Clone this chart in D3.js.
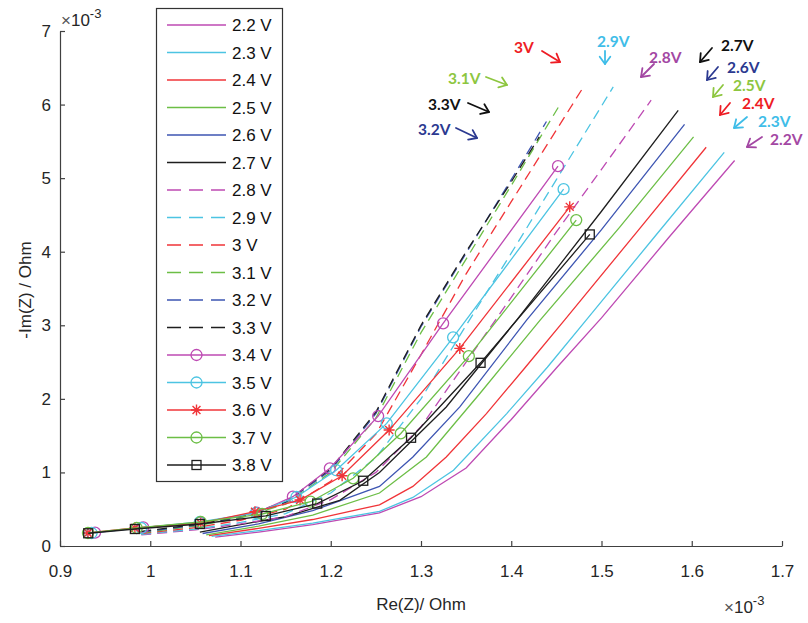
<!DOCTYPE html>
<html>
<head>
<meta charset="utf-8">
<script src="https://cdn.jsdelivr.net/npm/d3@7"></script>
<style>
  html, body { margin: 0; padding: 0; background: #fff; }
  svg { display: block; }
</style>
</head>
<body>
<svg id="chart" width="808" height="623"></svg>
<script>
// ---------------- DATA (Re(Z), -Im(Z)) in units of 1e-3 Ohm ----------------
const seriesNames = ["2.2 V","2.3 V","2.4 V","2.5 V","2.6 V","2.7 V","2.8 V","2.9 V","3 V","3.1 V","3.2 V","3.3 V","3.4 V","3.5 V","3.6 V","3.7 V","3.8 V"];

const v22 = [[1.072,0.12],[1.12,0.19],[1.18,0.29],[1.254,0.45],[1.30,0.67],[1.35,1.06],[1.40,1.72],[1.45,2.42],[1.50,3.10],[1.575,4.2],[1.6475,5.24]];
const v23 = [[1.068,0.13],[1.12,0.21],[1.18,0.31],[1.254,0.47],[1.291,0.66],[1.336,1.03],[1.395,1.80],[1.44,2.43],[1.483,3.07],[1.56,4.22],[1.636,5.35]];
const v24 = [[1.065,0.14],[1.12,0.24],[1.18,0.36],[1.254,0.56],[1.291,0.81],[1.328,1.21],[1.3725,1.8],[1.415,2.42],[1.459,3.07],[1.54,4.28],[1.616,5.42]];
const v25 = [[1.062,0.15],[1.12,0.27],[1.18,0.42],[1.254,0.72],[1.306,1.21],[1.365,2.07],[1.432,3.07],[1.52,4.33],[1.602,5.56]];
const v26 = [[1.058,0.17],[1.12,0.3],[1.18,0.48],[1.254,0.81],[1.291,1.21],[1.343,1.89],[1.417,3.07],[1.50,4.3],[1.592,5.73]];
const v27 = [[1.055,0.19],[1.10,0.29],[1.15,0.4],[1.21,0.62],[1.254,1.0],[1.328,1.89],[1.406,3.07],[1.50,4.55],[1.585,5.92]];
const v28 = [[0.99,0.15],[1.05,0.22],[1.10,0.3],[1.15,0.4],[1.20,0.63],[1.25,1.0],[1.30,1.62],[1.35,2.5],[1.40,3.38],[1.45,4.27],[1.50,5.12],[1.555,6.06]];
const v29 = [[0.99,0.16],[1.05,0.23],[1.10,0.32],[1.15,0.44],[1.20,0.72],[1.25,1.2],[1.30,2.0],[1.35,3.0],[1.40,3.98],[1.45,4.98],[1.513,6.24]];
const v30 = [[0.99,0.17],[1.05,0.25],[1.10,0.35],[1.15,0.5],[1.20,0.88],[1.25,1.52],[1.30,2.6],[1.35,3.7],[1.40,4.68],[1.479,6.22]];
const v31 = [[0.99,0.18],[1.05,0.27],[1.10,0.38],[1.15,0.57],[1.20,1.0],[1.25,1.74],[1.30,2.9],[1.35,3.9],[1.40,4.9],[1.452,5.96]];
const v32 = [[0.99,0.19],[1.05,0.28],[1.10,0.39],[1.15,0.59],[1.20,1.03],[1.25,1.8],[1.30,2.98],[1.35,3.98],[1.40,4.98],[1.439,5.77]];
const v33 = [[0.99,0.20],[1.05,0.29],[1.10,0.40],[1.15,0.60],[1.20,1.05],[1.25,1.82],[1.30,3.0],[1.35,4.0],[1.40,4.95],[1.431,5.56]];
const v34 = [[0.9388,0.181],[0.9922,0.254],[1.055,0.317],[1.118,0.452],[1.158,0.670],[1.199,1.056],[1.2525,1.766],[1.3245,3.026],[1.4518,5.163]];
const v35 = [[0.935,0.177],[0.990,0.245],[1.055,0.326],[1.117,0.45],[1.162,0.666],[1.206,1.03],[1.262,1.667],[1.3356,2.836],[1.458,4.85]];
const v36 = [[0.931,0.177],[0.983,0.245],[1.056,0.31],[1.116,0.466],[1.166,0.625],[1.2126,0.955],[1.2647,1.576],[1.343,2.686],[1.4648,4.61]];
const v37 = [[0.931,0.177],[0.985,0.245],[1.056,0.326],[1.124,0.435],[1.1776,0.602],[1.2248,0.92],[1.2776,1.53],[1.353,2.58],[1.472,4.43]];
const v38 = [[0.9313,0.173],[0.983,0.231],[1.055,0.299],[1.128,0.408],[1.185,0.577],[1.236,0.887],[1.289,1.471],[1.366,2.49],[1.487,4.235]];

const seriesData = [v22,v23,v24,v25,v26,v27,v28,v29,v30,v31,v32,v33,v34,v35,v36,v37,v38];

const xTicks = [0.9,1.0,1.1,1.2,1.3,1.4,1.5,1.6,1.7];
const xTickLabels = ["0.9","1","1.1","1.2","1.3","1.4","1.5","1.6","1.7"];
const yTicks = [0,1,2,3,4,5,6,7];
const yTickLabels = ["0","1","2","3","4","5","6","7"];

const annLabels = ["3V","3.1V","3.3V","3.2V","2.9V","2.8V","2.7V","2.6V","2.5V","2.4V","2.3V","2.2V"];

// ---------------- STYLE ----------------
const C = { mag:"#BE4AB3", cyan:"#4CC4E2", red:"#F03438", green:"#6CBE46", blue:"#3D55B2", black:"#1E1E1E" };
const seriesColors = [C.mag,C.cyan,C.red,C.green,C.blue,C.black, C.mag,C.cyan,C.red,C.green,C.blue,C.black, C.mag,C.cyan,C.red,C.green,C.black];
const seriesDash = seriesNames.map((d,i)=> (i>=6 && i<=11) ? "dash" : "solid");
const seriesMarker = ["","","","","","","","","","","","","circle","circle","star","circle","square"];

const annColors = ["#EE1C24","#8DC63F","#111111","#2B3990","#3FBDE8","#A347A3","#111111","#2B3990","#8DC63F","#EE1C24","#3FBDE8","#A347A3"];
// text position (x, baseline y), arrow start, arrow end
const annLayout = [
  {tx:514,ty:53, x1:542,y1:51,x2:560,y2:62},
  {tx:448,ty:84, x1:486,y1:77,x2:507,y2:85},
  {tx:428,ty:110,x1:468,y1:103,x2:489,y2:112},
  {tx:418,ty:135,x1:456,y1:128,x2:477,y2:138},
  {tx:597,ty:47, x1:605,y1:51,x2:605,y2:64},
  {tx:649,ty:63, x1:654,y1:64,x2:641,y2:77},
  {tx:721,ty:51, x1:712,y1:48,x2:700,y2:62},
  {tx:727,ty:73, x1:718,y1:67,x2:707,y2:80},
  {tx:733,ty:91, x1:723,y1:85,x2:713,y2:97},
  {tx:742,ty:109,x1:730,y1:103,x2:720,y2:115},
  {tx:758,ty:127,x1:747,y1:117,x2:734,y2:128},
  {tx:770,ty:145,x1:762,y1:137,x2:747,y2:147}
];

// ---------------- CHART ----------------
const svg = d3.select("#chart");
const x = d3.scaleLinear().domain([0.9,1.7]).range([60,782]);
const y = d3.scaleLinear().domain([0,7]).range([546,31]);
const axisColor = "#404040";
const textColor = "#262626";
const fontFamily = "'Liberation Sans', Arial, sans-serif";

// axes
const gx = svg.append("g").attr("transform","translate(0,546)")
  .call(d3.axisBottom(x).tickValues(xTicks).tickFormat((d,i)=>xTickLabels[i]).tickSizeInner(-5).tickSizeOuter(0).tickPadding(19));
const gy = svg.append("g").attr("transform","translate(60,0)")
  .call(d3.axisLeft(y).tickValues(yTicks).tickFormat((d,i)=>yTickLabels[i]).tickSizeInner(-5).tickSizeOuter(0).tickPadding(9));
[gx,gy].forEach(g=>{
  g.select(".domain").attr("stroke",axisColor).attr("stroke-width",1.2);
  g.selectAll(".tick line").attr("stroke",axisColor).attr("stroke-width",1.2);
  g.selectAll(".tick text").attr("fill",textColor).style("font-family",fontFamily).style("font-size","17px");
});

// exponent labels
function expLabel(xx, yy) {
  const t = svg.append("text").attr("x",xx).attr("y",yy).attr("fill",textColor)
    .style("font-family",fontFamily).style("font-size","17px");
  t.append("tspan").text("\u00D7").attr("fill","#555");
  t.append("tspan").text("10");
  t.append("tspan").text("-3").attr("dy",-8).style("font-size","13px");
}
expLabel(61, 26);
expLabel(724, 613);

// axis titles
svg.append("text").attr("x",421).attr("y",610).attr("text-anchor","middle").attr("fill",textColor)
  .style("font-family",fontFamily).style("font-size","17px").text("Re(Z)/ Ohm");
svg.append("text").attr("transform","translate(31,290) rotate(-90)").attr("text-anchor","middle").attr("fill",textColor)
  .style("font-family",fontFamily).style("font-size","17px").text("-Im(Z) / Ohm");

// markers
function drawMarker(g, type, cx, cy, color) {
  if (type === "circle") {
    g.append("circle").attr("cx",cx).attr("cy",cy).attr("r",5.5).attr("fill","none").attr("stroke",color).attr("stroke-width",1.3);
  } else if (type === "square") {
    g.append("rect").attr("x",cx-4.5).attr("y",cy-4.5).attr("width",9).attr("height",9).attr("fill","none").attr("stroke",color).attr("stroke-width",1.3);
  } else if (type === "star") {
    const r = 5.5, d = r*0.72;
    const p = `M${cx-r},${cy}L${cx+r},${cy}M${cx},${cy-r}L${cx},${cy+r}M${cx-d},${cy-d}L${cx+d},${cy+d}M${cx-d},${cy+d}L${cx+d},${cy-d}`;
    g.append("path").attr("d",p).attr("stroke",color).attr("stroke-width",1.4).attr("fill","none");
  }
}

const line = d3.line().x(d=>x(d[0])).y(d=>y(d[1]));
const plotG = svg.append("g");
seriesData.forEach((data,i)=>{
  const g = plotG.append("g");
  g.append("path").attr("d",line(data)).attr("fill","none")
    .attr("stroke",seriesColors[i]).attr("stroke-width",1.3)
    .attr("stroke-dasharray", seriesDash[i]==="dash" ? "10,6" : null);
  if (seriesMarker[i]) data.forEach(p=>drawMarker(g, seriesMarker[i], x(p[0]), y(p[1]), seriesColors[i]));
});

// legend
const lg = svg.append("g");
lg.append("rect").attr("x",156.5).attr("y",8.5).attr("width",126).attr("height",473)
  .attr("fill","#fff").attr("stroke","#333").attr("stroke-width",1.2);
seriesNames.forEach((name,i)=>{
  const yy = 25 + i*27.5;
  lg.append("line").attr("x1",167).attr("x2",226).attr("y1",yy).attr("y2",yy)
    .attr("stroke",seriesColors[i]).attr("stroke-width",1.3)
    .attr("stroke-dasharray", seriesDash[i]==="dash" ? "14,8" : null);
  if (seriesMarker[i]) drawMarker(lg, seriesMarker[i], 196.5, yy, seriesColors[i]);
  lg.append("text").attr("x",232).attr("y",yy+6).attr("fill","#111")
    .style("font-family",fontFamily).style("font-size","17px").text(name);
});

// annotations
const ag = svg.append("g");
annLabels.forEach((lab,i)=>{
  const L = annLayout[i], col = annColors[i];
  ag.append("text").attr("x",L.tx).attr("y",L.ty).attr("fill",col)
    .style("font-family","Lato, 'Open Sans', sans-serif").style("font-weight","bold").style("font-size","15.5px").text(lab);
  ag.append("line").attr("x1",L.x1).attr("y1",L.y1).attr("x2",L.x2).attr("y2",L.y2)
    .attr("stroke",col).attr("stroke-width",1.8).attr("stroke-linecap","round");
  const ang = Math.atan2(L.y2-L.y1, L.x2-L.x1), h = 9, spread = Math.PI/5;
  const p = `M${L.x2-h*Math.cos(ang-spread)},${L.y2-h*Math.sin(ang-spread)}L${L.x2},${L.y2}L${L.x2-h*Math.cos(ang+spread)},${L.y2-h*Math.sin(ang+spread)}`;
  ag.append("path").attr("d",p).attr("fill","none").attr("stroke",col).attr("stroke-width",1.8)
    .attr("stroke-linecap","round").attr("stroke-linejoin","round");
});
</script>
</body>
</html>
